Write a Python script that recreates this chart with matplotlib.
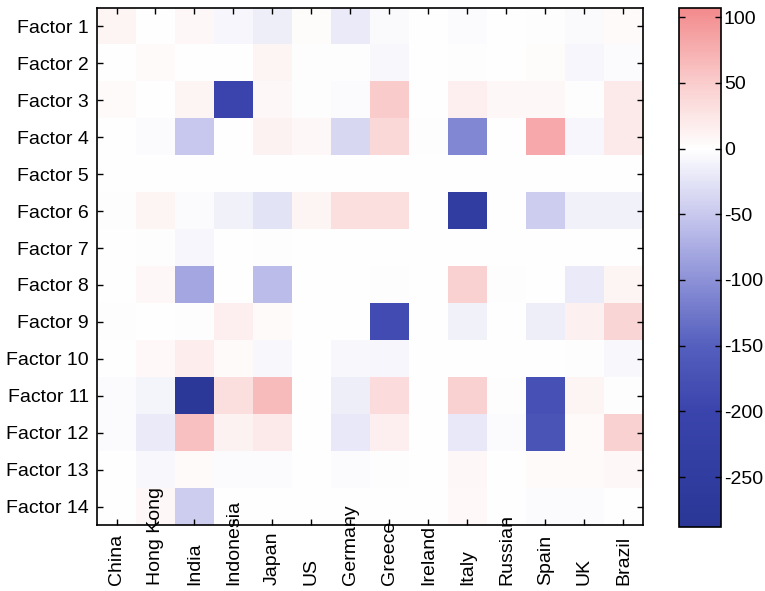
import matplotlib

matplotlib.use("Agg")
import matplotlib.pyplot as plt
import numpy as np
from matplotlib.colors import LinearSegmentedColormap, Normalize

plt.rcParams["font.family"] = ["Liberation Sans", "DejaVu Sans"]
plt.rcParams["axes.unicode_minus"] = False

countries = ["China", "Hong Kong", "India", "Indonesia", "Japan", "US", "Germany",
             "Greece", "Ireland", "Italy", "Russian", "Spain", "UK", "Brazil"]
factors = [f"Factor {i}" for i in range(1, 15)]

# one list per factor row, values
f1 = [10, 0, 8, -8, -15, 3, -18, -5, 0, -4, 0, 1, -5, 4]
f2 = [0, 5, 0, 0, 10, 2, 1, -7, 0, -2, 0, 3, -8, -4]
f3 = [5, 0, 10, -200, 8, 1, -4, 50, 0, 15, 7, 8, -2, 22]
f4 = [0, -4, -50, 0, 12, 8, -35, 38, 1, -110, 0, 80, -8, 22]
f5 = [0, 0, 0, 0, 0, 0, 0, 0, 0, 0, 0, 0, 0, 0]
f6 = [-2, 10, -3, -12, -25, 10, 32, 32, 0, -245, 0, -45, -12, -12]
f7 = [0, 1, -8, 0, -2, 0, 0, 0, 0, 0, 0, 0, 0, 0]
f8 = [0, 8, -80, 0, -60, 0, 0, 2, 0, 45, 2, 0, -18, 10]
f9 = [-2, 0, -2, 15, 5, 0, 0, -185, 0, -12, 0, -15, 14, 42]
f10 = [0, 6, 16, 4, -6, 0, -7, -8, 0, 0, 0, 0, 1, -6]
f11 = [-3, -10, -280, 30, 65, 0, -15, 35, 0, 45, -2, -175, 10, 2]
f12 = [-4, -18, 60, 12, 22, 0, -20, 15, 0, -20, -3, -170, 5, 45]
f13 = [0, -6, 4, -4, -4, 0, -3, -2, 0, 8, 0, 4, 5, 7]
f14 = [0, 8, -45, 0, 0, 0, 0, 0, 0, 6, 0, -3, -3, 0]

cbar_ticks = [100, 50, 0, -50, -100, -150, -200, -250]

data = np.array([f1, f2, f3, f4, f5, f6, f7, f8, f9, f10, f11, f12, f13, f14])

vmin, vmax = -288, 107
anchors = [(-288, "#2a3796"), (-200, "#3a44ac"), (-150, "#555fbe"), (-100, "#8c91d7"),
           (-50, "#c8c8ee"), (0, "#ffffff"), (50, "#facdcd"), (107, "#f38a8c")]
cmap = LinearSegmentedColormap.from_list(
    "bwr_like", [((v - vmin) / (vmax - vmin), c) for v, c in anchors])
norm = Normalize(vmin=vmin, vmax=vmax)

fig = plt.figure(figsize=(7.65, 5.91), dpi=100)
ax = fig.add_axes([0.1268, 0.1117, 0.7137, 0.8748])
cax = fig.add_axes([0.8876, 0.1083, 0.0549, 0.8782])

im = ax.imshow(data, cmap=cmap, norm=norm, aspect="auto", interpolation="nearest")

ax.set_xticks(np.arange(len(countries)))
ax.set_xticklabels(countries, rotation=90, va="bottom", ha="center")
ax.set_yticks(np.arange(len(factors)))
ax.set_yticklabels(factors)
ax.tick_params(axis="both", direction="in", length=4, width=1, labelsize=14,
               top=True, right=True)
ax.tick_params(axis="x", pad=43)
ax.tick_params(axis="y", pad=6)
for s in ax.spines.values():
    s.set_linewidth(1.2)

cb = fig.colorbar(im, cax=cax)
cb.set_ticks(cbar_ticks)
cb.ax.tick_params(direction="in", length=4, width=1, labelsize=14, left=True, pad=2)
cb.outline.set_linewidth(1.2)

fig.savefig("out.png", dpi=100)
